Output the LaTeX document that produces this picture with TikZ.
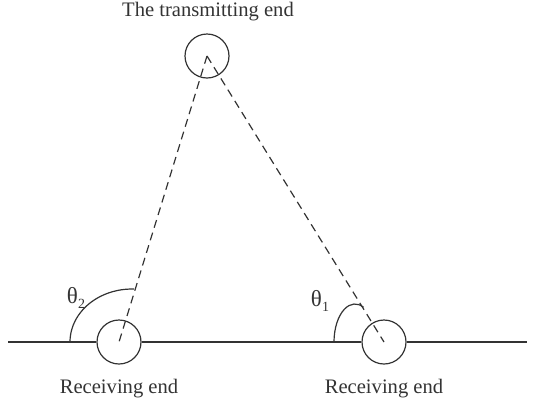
\documentclass[tikz,border=0pt]{standalone}
\usepackage{fontspec}
\setmainfont{Liberation Serif}
\usepackage{tikz}
\usetikzlibrary{positioning}

\begin{document}
\begin{tikzpicture}[
  x=0.5pt, y=0.5pt, line width=0.6pt, color=black!80,
  font=\fontsize{10.3}{12}\selectfont,
  stn/.style={draw, circle, minimum size=22pt, inner sep=0pt},
  lbl/.style={inner sep=1pt, align=center},
  ray/.style={dashed, dash pattern=on 4pt off 2.6pt}]

\useasboundingbox (0,0) rectangle (535,404);

\node[stn] (tx) at (207,348) {};
\node[stn] (rx2) at (119,62) {};
\node[stn] (rx1) at (384,62) {};

\node[lbl] (txlbl) at (208,392) {The transmitting end};
\node[lbl, below=6pt of rx2] (rx2lbl) {Receiving end};
\node[lbl, below=6pt of rx1] (rx1lbl) {Receiving end};

\coordinate (gl) at (8,62);
\coordinate (gr) at (527,62);
\coordinate (a2) at (70,62);
\coordinate (a1) at (334,62);

% ground line
\draw (gl) -- (rx2);
\draw (rx2) -- (rx1);
\draw (rx1) -- (gr);
% signal paths
\draw[ray] (tx.center) -- (rx2.center);
\draw[ray] (tx.center) -- (rx1.center);
% angle marks
\draw (a2) arc[start angle=180, end angle=88, x radius=31pt, y radius=26.5pt];
\draw (a1) arc[start angle=180, end angle=66, x radius=10.5pt, y radius=19pt];

\node[lbl] (th2) at (76,106) {\fontsize{11.5}{12}\selectfont θ\raisebox{-0.45ex}{\scriptsize 2}};
\node[lbl] (th1) at (320,103) {\fontsize{11.5}{12}\selectfont θ\raisebox{-0.45ex}{\scriptsize 1}};
\end{tikzpicture}
\end{document}
